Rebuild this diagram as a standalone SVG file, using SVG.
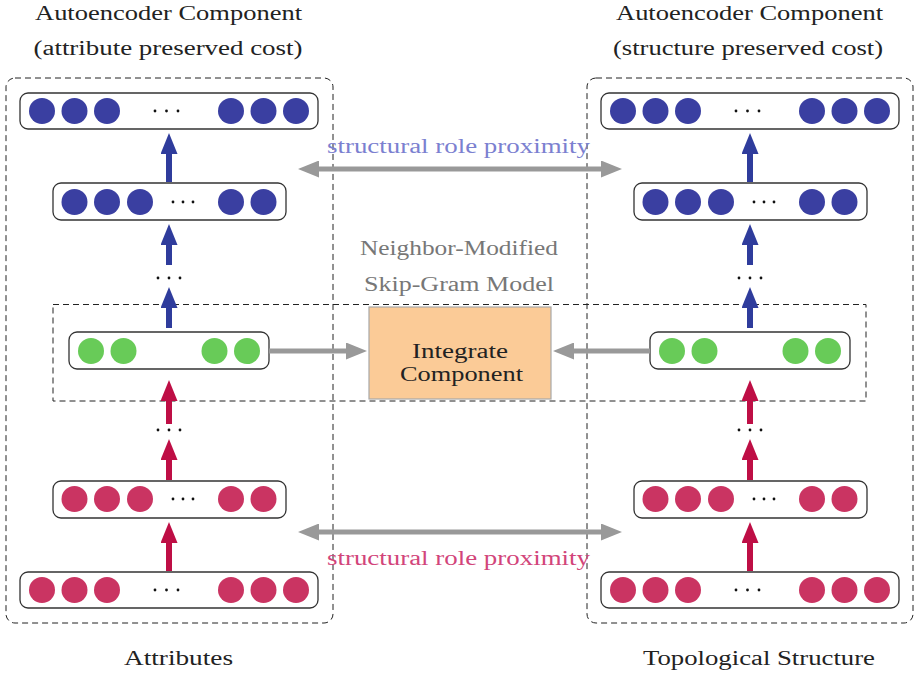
<svg xmlns="http://www.w3.org/2000/svg" width="914" height="675" viewBox="0 0 914 675">
  <style>
    text { font-family: "Liberation Serif", "Times New Roman", serif; font-size: 20px; text-anchor: middle; }
    .title { fill: #222; }
    .gray { fill: #777; }
    .dash { fill: none; stroke: #222; stroke-width: 1; stroke-dasharray: 6 4; }
    .row { fill: #fff; stroke: #333; stroke-width: 1.3; }
    .b { fill: #3A3FA1; }
    .r { fill: #CA3462; }
    .g { fill: #68CB58; }
    .dot { fill: #111; }
    .up-b { stroke: #2F3C9C; stroke-width: 6; marker-end: url(#headBlue); }
    .up-r { stroke: #BE0E45; stroke-width: 6; marker-end: url(#headRed); }
    .harr { stroke: #999; stroke-width: 5; fill: none; }
  </style>
  <defs>
    <marker id="headBlue" markerUnits="userSpaceOnUse" viewBox="0 0 21 17" markerWidth="21" markerHeight="17" refX="1" refY="8.5" orient="auto">
      <path d="M0,0 L21,8.5 L0,17 z" fill="#2F3C9C"/>
    </marker>
    <marker id="headRed" markerUnits="userSpaceOnUse" viewBox="0 0 21 17" markerWidth="21" markerHeight="17" refX="1" refY="8.5" orient="auto">
      <path d="M0,0 L21,8.5 L0,17 z" fill="#BE0E45"/>
    </marker>
    <marker id="headGray" markerUnits="userSpaceOnUse" viewBox="0 0 21 17" markerWidth="21" markerHeight="17" refX="1" refY="8.5" orient="auto-start-reverse">
      <path d="M0,0 L21,8.5 L0,17 z" fill="#999"/>
    </marker>
  </defs>

  <!-- titles -->
  <g id="titles" class="title">
    <text x="168.5" y="20" textLength="267" lengthAdjust="spacingAndGlyphs">Autoencoder Component</text>
    <text x="168" y="55" textLength="269" lengthAdjust="spacingAndGlyphs">(attribute preserved cost)</text>
    <text x="749.5" y="20" textLength="267" lengthAdjust="spacingAndGlyphs">Autoencoder Component</text>
    <text x="748" y="55" textLength="270" lengthAdjust="spacingAndGlyphs">(structure preserved cost)</text>
    <text x="178.5" y="665" textLength="109" lengthAdjust="spacingAndGlyphs">Attributes</text>
    <text x="759" y="665" textLength="232" lengthAdjust="spacingAndGlyphs">Topological Structure</text>
  </g>

  <!-- dashed regions -->
  <g id="regions">
    <rect class="dash" x="6" y="78" width="327" height="545" rx="9"/>
    <rect class="dash" x="587" y="78" width="326" height="545" rx="9"/>
    <rect class="dash" x="53" y="304.5" width="813" height="96.5"/>
  </g>

  <!-- left column: attributes autoencoder -->
  <g id="left-out">
    <rect class="row" x="20" y="93" width="298" height="36" rx="8"/>
    <circle class="b" cx="42" cy="111" r="13"/><circle class="b" cx="74.5" cy="111" r="13"/><circle class="b" cx="107" cy="111" r="13"/>
    <circle class="b" cx="231" cy="111" r="13"/><circle class="b" cx="263.5" cy="111" r="13"/><circle class="b" cx="296" cy="111" r="13"/>
    <circle class="dot" cx="155" cy="111" r="1.4"/><circle class="dot" cx="166.5" cy="111" r="1.4"/><circle class="dot" cx="178" cy="111" r="1.4"/>
  </g>
  <g id="left-dec">
    <rect class="row" x="53" y="183" width="233" height="37" rx="8"/>
    <circle class="b" cx="74.5" cy="202" r="13"/><circle class="b" cx="107" cy="202" r="13"/><circle class="b" cx="140" cy="202" r="13"/>
    <circle class="b" cx="231" cy="202" r="13"/><circle class="b" cx="263.5" cy="202" r="13"/>
    <circle class="dot" cx="173" cy="202" r="1.4"/><circle class="dot" cx="183" cy="202" r="1.4"/><circle class="dot" cx="193" cy="202" r="1.4"/>
  </g>
  <g id="left-embed">
    <rect class="row" x="69" y="332" width="200" height="37" rx="8"/>
    <circle class="g" cx="91" cy="351" r="13"/><circle class="g" cx="123.5" cy="351" r="13"/>
    <circle class="g" cx="214.5" cy="351" r="13"/><circle class="g" cx="247" cy="351" r="13"/>
  </g>
  <g id="left-enc">
    <rect class="row" x="53" y="481" width="233" height="37" rx="8"/>
    <circle class="r" cx="74.5" cy="499" r="13"/><circle class="r" cx="107" cy="499" r="13"/><circle class="r" cx="140" cy="499" r="13"/>
    <circle class="r" cx="231" cy="499" r="13"/><circle class="r" cx="263.5" cy="499" r="13"/>
    <circle class="dot" cx="173" cy="499" r="1.4"/><circle class="dot" cx="183" cy="499" r="1.4"/><circle class="dot" cx="193" cy="499" r="1.4"/>
  </g>
  <g id="left-in">
    <rect class="row" x="20" y="572" width="298" height="36" rx="8"/>
    <circle class="r" cx="42" cy="590" r="13"/><circle class="r" cx="74.5" cy="590" r="13"/><circle class="r" cx="107" cy="590" r="13"/>
    <circle class="r" cx="231" cy="590" r="13"/><circle class="r" cx="263.5" cy="590" r="13"/><circle class="r" cx="296" cy="590" r="13"/>
    <circle class="dot" cx="155" cy="590" r="1.4"/><circle class="dot" cx="166.5" cy="590" r="1.4"/><circle class="dot" cx="178" cy="590" r="1.4"/>
  </g>

  <!-- right column: structure autoencoder (same layout shifted by 581) -->
  <g id="right-out" transform="translate(581,0)">
    <rect class="row" x="20" y="93" width="298" height="36" rx="8"/>
    <circle class="b" cx="42" cy="111" r="13"/><circle class="b" cx="74.5" cy="111" r="13"/><circle class="b" cx="107" cy="111" r="13"/>
    <circle class="b" cx="231" cy="111" r="13"/><circle class="b" cx="263.5" cy="111" r="13"/><circle class="b" cx="296" cy="111" r="13"/>
    <circle class="dot" cx="155" cy="111" r="1.4"/><circle class="dot" cx="166.5" cy="111" r="1.4"/><circle class="dot" cx="178" cy="111" r="1.4"/>
  </g>
  <g id="right-dec" transform="translate(581,0)">
    <rect class="row" x="53" y="183" width="233" height="37" rx="8"/>
    <circle class="b" cx="74.5" cy="202" r="13"/><circle class="b" cx="107" cy="202" r="13"/><circle class="b" cx="140" cy="202" r="13"/>
    <circle class="b" cx="231" cy="202" r="13"/><circle class="b" cx="263.5" cy="202" r="13"/>
    <circle class="dot" cx="173" cy="202" r="1.4"/><circle class="dot" cx="183" cy="202" r="1.4"/><circle class="dot" cx="193" cy="202" r="1.4"/>
  </g>
  <g id="right-embed" transform="translate(581,0)">
    <rect class="row" x="69" y="332" width="200" height="37" rx="8"/>
    <circle class="g" cx="91" cy="351" r="13"/><circle class="g" cx="123.5" cy="351" r="13"/>
    <circle class="g" cx="214.5" cy="351" r="13"/><circle class="g" cx="247" cy="351" r="13"/>
  </g>
  <g id="right-enc" transform="translate(581,0)">
    <rect class="row" x="53" y="481" width="233" height="37" rx="8"/>
    <circle class="r" cx="74.5" cy="499" r="13"/><circle class="r" cx="107" cy="499" r="13"/><circle class="r" cx="140" cy="499" r="13"/>
    <circle class="r" cx="231" cy="499" r="13"/><circle class="r" cx="263.5" cy="499" r="13"/>
    <circle class="dot" cx="173" cy="499" r="1.4"/><circle class="dot" cx="183" cy="499" r="1.4"/><circle class="dot" cx="193" cy="499" r="1.4"/>
  </g>
  <g id="right-in" transform="translate(581,0)">
    <rect class="row" x="20" y="572" width="298" height="36" rx="8"/>
    <circle class="r" cx="42" cy="590" r="13"/><circle class="r" cx="74.5" cy="590" r="13"/><circle class="r" cx="107" cy="590" r="13"/>
    <circle class="r" cx="231" cy="590" r="13"/><circle class="r" cx="263.5" cy="590" r="13"/><circle class="r" cx="296" cy="590" r="13"/>
    <circle class="dot" cx="155" cy="590" r="1.4"/><circle class="dot" cx="166.5" cy="590" r="1.4"/><circle class="dot" cx="178" cy="590" r="1.4"/>
  </g>

  <!-- integration node -->
  <g id="integrate">
    <rect x="369" y="307" width="182" height="92" fill="#FBCB97" stroke="#A8A8A8" stroke-width="1.2"/>
    <text x="460" y="358" fill="#222" textLength="96" lengthAdjust="spacingAndGlyphs">Integrate</text>
    <text x="461.5" y="381" fill="#222" textLength="123" lengthAdjust="spacingAndGlyphs">Component</text>
  </g>
  <g id="skipgram-label" class="gray">
    <text x="459" y="255" textLength="198" lengthAdjust="spacingAndGlyphs">Neighbor-Modified</text>
    <text x="459" y="291" textLength="190" lengthAdjust="spacingAndGlyphs">Skip-Gram Model</text>
  </g>

  <!-- connectors -->
  <g id="connectors">
    <!-- blue decoder arrows -->
    <line class="up-b" x1="169" y1="182" x2="169" y2="153"/>
    <line class="up-b" x1="169" y1="265" x2="169" y2="244"/>
    <line class="up-b" x1="169" y1="328" x2="169" y2="307"/>
    <line class="up-b" x1="750" y1="182" x2="750" y2="153"/>
    <line class="up-b" x1="750" y1="265" x2="750" y2="244"/>
    <line class="up-b" x1="750" y1="328" x2="750" y2="307"/>
    <!-- red encoder arrows -->
    <line class="up-r" x1="169" y1="424" x2="169" y2="400"/>
    <line class="up-r" x1="169" y1="480" x2="169" y2="459"/>
    <line class="up-r" x1="169" y1="571" x2="169" y2="542"/>
    <line class="up-r" x1="750" y1="424" x2="750" y2="400"/>
    <line class="up-r" x1="750" y1="480" x2="750" y2="459"/>
    <line class="up-r" x1="750" y1="571" x2="750" y2="542"/>
    <!-- vertical ellipses -->
    <g class="dot">
      <circle cx="158" cy="278" r="1.4"/><circle cx="169" cy="278" r="1.4"/><circle cx="180" cy="278" r="1.4"/>
      <circle cx="158" cy="430" r="1.4"/><circle cx="169" cy="430" r="1.4"/><circle cx="180" cy="430" r="1.4"/>
      <circle cx="739" cy="278" r="1.4"/><circle cx="750" cy="278" r="1.4"/><circle cx="761" cy="278" r="1.4"/>
      <circle cx="739" cy="430" r="1.4"/><circle cx="750" cy="430" r="1.4"/><circle cx="761" cy="430" r="1.4"/>
    </g>
    <!-- embeddings into integrate component -->
    <line class="harr" x1="269" y1="351" x2="347" y2="351" marker-end="url(#headGray)"/>
    <line class="harr" x1="650" y1="351" x2="573" y2="351" marker-end="url(#headGray)"/>
    <!-- structural role proximity links -->
    <line class="harr" x1="318" y1="169" x2="602" y2="169" marker-start="url(#headGray)" marker-end="url(#headGray)"/>
    <line class="harr" x1="318" y1="532" x2="602" y2="532" marker-start="url(#headGray)" marker-end="url(#headGray)"/>
    <text x="458.5" y="153" fill="#7B80D0" textLength="263" lengthAdjust="spacingAndGlyphs">structural role proximity</text>
    <text x="458.5" y="565" fill="#D2457A" textLength="263" lengthAdjust="spacingAndGlyphs">structural role proximity</text>
  </g>
</svg>
